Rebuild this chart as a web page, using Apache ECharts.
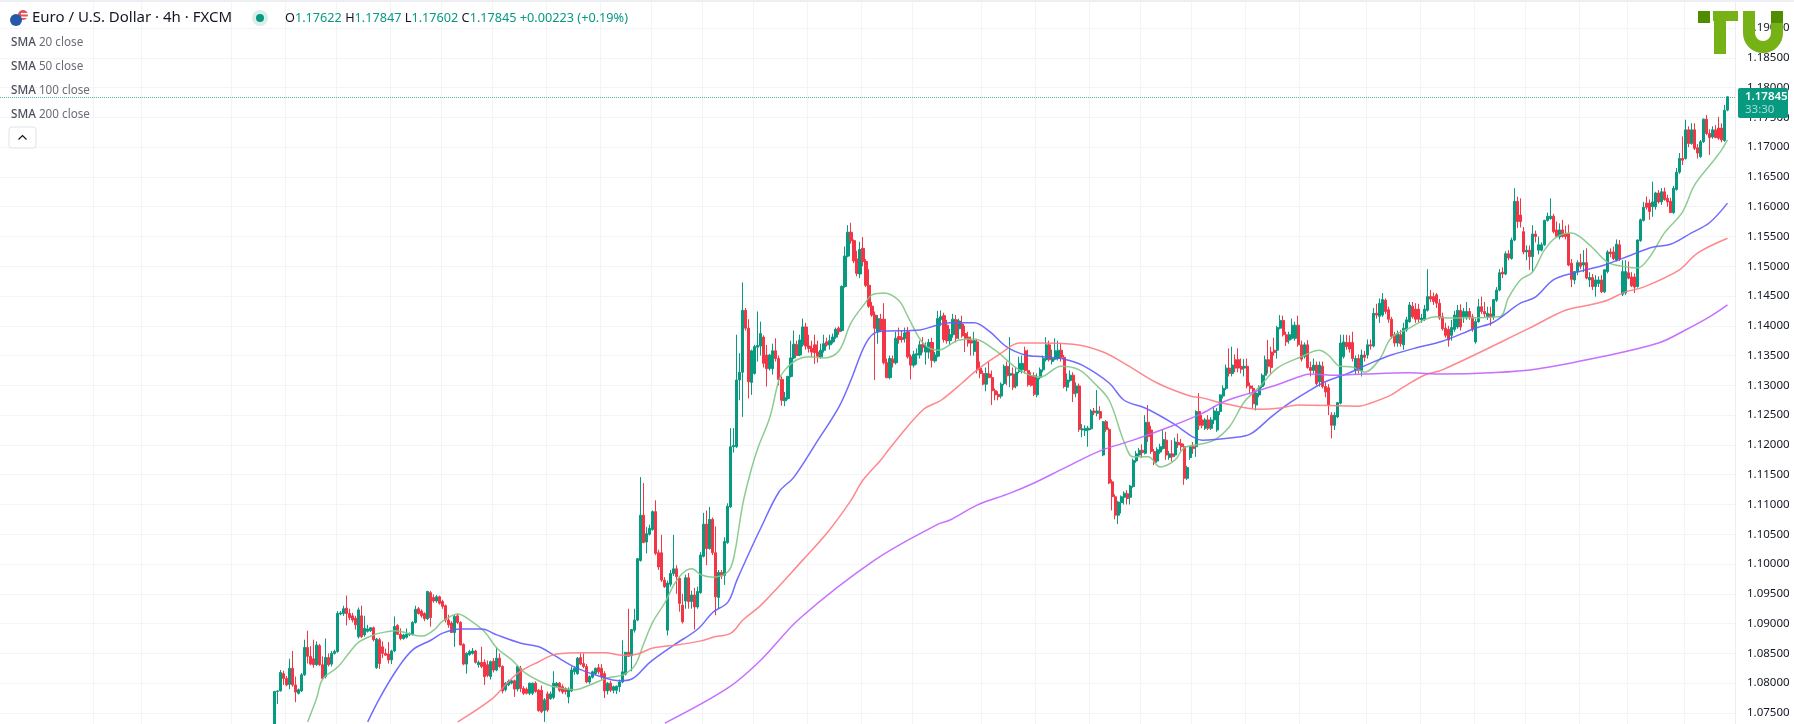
<!DOCTYPE html>
<html>
<head>
<meta charset="utf-8">
<title>EUR/USD 4h</title>
<script src="https://cdn.jsdelivr.net/npm/echarts@6/dist/echarts.min.js"></script>
<style>
html, body { margin: 0; padding: 0; background: #fff; }
#chart { width: 1794px; height: 724px; }
</style>
</head>
<body>
<div id="chart"></div>
<script>
'use strict';
// ---- candles: [open, high, low, close] ----------------------------------- //
const legSpring = [
[1.0715,1.0787,1.0700,1.0786],[1.0786,1.0788,1.0765,1.0787],[1.0787,1.0822,1.0786,1.0818],[1.0816,1.0821,1.0797,1.0808],[1.0808,1.0812,1.0795,1.0797],
[1.0798,1.0841,1.0790,1.0825],[1.0825,1.0854,1.0794,1.0797],[1.0797,1.0811,1.0768,1.0785],[1.0783,1.0791,1.0781,1.0789],[1.0787,1.0817,1.0785,1.0814],
[1.0814,1.0873,1.0812,1.0860],[1.0860,1.0888,1.0833,1.0845],[1.0845,1.0862,1.0830,1.0832],[1.0841,1.0873,1.0826,1.0831],[1.0831,1.0870,1.0829,1.0864],
[1.0863,1.0866,1.0829,1.0831],[1.0831,1.0845,1.0807,1.0808],[1.0811,1.0875,1.0808,1.0843],[1.0843,1.0850,1.0828,1.0831],[1.0832,1.0854,1.0828,1.0850],
[1.0850,1.0856,1.0848,1.0853],[1.0853,1.0921,1.0851,1.0917],[1.0916,1.0921,1.0914,1.0918],[1.0917,1.0930,1.0913,1.0925],[1.0926,1.0947,1.0897,1.0917],
[1.0917,1.0925,1.0906,1.0910],[1.0913,1.0918,1.0902,1.0906],[1.0909,1.0913,1.0890,1.0898],[1.0878,1.0927,1.0875,1.0923],[1.0913,1.0930,1.0876,1.0878],
[1.0881,1.0913,1.0878,1.0892],[1.0887,1.0898,1.0885,1.0891],[1.0888,1.0894,1.0886,1.0893],[1.0893,1.0895,1.0870,1.0873],[1.0826,1.0876,1.0824,1.0874],
[1.0873,1.0876,1.0824,1.0833],[1.0861,1.0870,1.0842,1.0850],[1.0850,1.0858,1.0846,1.0847],[1.0849,1.0869,1.0833,1.0839],[1.0839,1.0856,1.0832,1.0854],
[1.0854,1.0912,1.0852,1.0895],[1.0897,1.0899,1.0881,1.0882],[1.0882,1.0892,1.0872,1.0875],[1.0875,1.0883,1.0873,1.0881],[1.0877,1.0892,1.0875,1.0882],
[1.0881,1.0885,1.0879,1.0883],[1.0882,1.0904,1.0880,1.0902],[1.0902,1.0930,1.0900,1.0924],[1.0925,1.0928,1.0915,1.0917],[1.0921,1.0924,1.0910,1.0913],
[1.0917,1.0919,1.0904,1.0908],[1.0908,1.0955,1.0906,1.0954],[1.0952,1.0955,1.0895,1.0910],[1.0944,1.0949,1.0935,1.0938],[1.0938,1.0948,1.0935,1.0945],
[1.0945,1.0947,1.0932,1.0934],[1.0937,1.0940,1.0925,1.0929],[1.0930,1.0932,1.0902,1.0906],[1.0906,1.0915,1.0893,1.0898],[1.0901,1.0904,1.0885,1.0885],
[1.0885,1.0916,1.0861,1.0912],[1.0913,1.0917,1.0899,1.0902],[1.0902,1.0904,1.0864,1.0864],[1.0865,1.0867,1.0830,1.0832],[1.0832,1.0852,1.0816,1.0850],
[1.0848,1.0856,1.0846,1.0853],[1.0850,1.0859,1.0848,1.0854],[1.0854,1.0856,1.0833,1.0835],[1.0831,1.0838,1.0826,1.0835],[1.0835,1.0861,1.0825,1.0828],
[1.0835,1.0840,1.0797,1.0811],[1.0831,1.0838,1.0810,1.0813],[1.0811,1.0838,1.0806,1.0836],[1.0837,1.0842,1.0818,1.0822],[1.0822,1.0860,1.0820,1.0842],
[1.0842,1.0850,1.0826,1.0828],[1.0828,1.0830,1.0783,1.0787],[1.0789,1.0802,1.0786,1.0800],[1.0797,1.0806,1.0795,1.0803],[1.0800,1.0806,1.0798,1.0804],
[1.0804,1.0806,1.0777,1.0790],[1.0790,1.0830,1.0786,1.0828],
];
const legBreakout = [
[1.0825,1.0829,1.0785,1.0791],[1.0791,1.0795,1.0780,1.0783],[1.0790,1.0793,1.0781,1.0783],[1.0783,1.0801,1.0780,1.0800],[1.0783,1.0801,1.0780,1.0800],
[1.0800,1.0803,1.0784,1.0786],[1.0788,1.0790,1.0752,1.0754],[1.0788,1.0796,1.0750,1.0752],[1.0754,1.0775,1.0735,1.0772],[1.0782,1.0786,1.0752,1.0755],
[1.0774,1.0786,1.0772,1.0782],[1.0776,1.0820,1.0773,1.0800],[1.0795,1.0802,1.0793,1.0800],[1.0800,1.0802,1.0785,1.0788],[1.0794,1.0798,1.0782,1.0785],
[1.0791,1.0793,1.0781,1.0786],[1.0777,1.0793,1.0766,1.0790],[1.0787,1.0828,1.0785,1.0822],[1.0819,1.0828,1.0814,1.0825],[1.0816,1.0844,1.0814,1.0842],
[1.0843,1.0850,1.0830,1.0832],[1.0833,1.0850,1.0825,1.0828],[1.0828,1.0832,1.0800,1.0802],[1.0802,1.0813,1.0799,1.0811],[1.0810,1.0821,1.0808,1.0819],
[1.0816,1.0826,1.0814,1.0825],[1.0826,1.0832,1.0815,1.0819],[1.0825,1.0832,1.0806,1.0811],[1.0816,1.0820,1.0775,1.0787],[1.0787,1.0802,1.0781,1.0800],
[1.0800,1.0804,1.0785,1.0788],[1.0788,1.0796,1.0783,1.0794],[1.0788,1.0796,1.0782,1.0795],[1.0794,1.0806,1.0785,1.0802],[1.0802,1.0872,1.0800,1.0819],
[1.0815,1.0852,1.0813,1.0852],[1.0852,1.0925,1.0845,1.0845],[1.0846,1.0891,1.0820,1.0890],[1.0889,1.0925,1.0885,1.0906],[1.0906,1.1010,1.0904,1.1009],
[1.1006,1.1146,1.1004,1.1082],[1.1082,1.1136,1.1035,1.1036],[1.1037,1.1062,1.1018,1.1051],[1.1050,1.1066,1.1048,1.1060],[1.1058,1.1090,1.1056,1.1088],
[1.1088,1.1107,1.1015,1.1018],[1.1019,1.1024,1.0990,1.0995],[1.1019,1.1049,1.0970,1.0973],[1.0973,1.0978,1.0960,1.0962],[1.0889,1.0972,1.0880,1.0968],
[1.0966,1.0990,1.0962,1.0984],[1.0984,1.1049,1.0980,1.0992],[1.0992,1.0998,1.0950,1.0979],[1.0976,1.0980,1.0920,1.0934],[1.0931,1.0950,1.0900,1.0903],
[1.0938,1.0982,1.0925,1.0977],[1.0977,1.0985,1.0925,1.0937],[1.0937,1.0955,1.0925,1.0948],[1.0948,1.0960,1.0890,1.0928],[1.0928,1.0962,1.0925,1.0954],
[1.0952,1.1020,1.0950,1.1015],[1.1013,1.1086,1.1011,1.1067],[1.1067,1.1090,1.0998,1.1026],[1.1026,1.1096,1.1024,1.1075],[1.1075,1.1078,1.1015,1.1019],
[1.1019,1.1063,1.0914,1.0945],[1.0944,1.0990,1.0925,1.0986],[1.0986,1.0990,1.0975,1.0980],[1.0981,1.1045,1.0965,1.1038],[1.1036,1.1102,1.1034,1.1097],
];
const legPeak = [
[1.1096,1.1228,1.1094,1.1197],[1.1197,1.1228,1.1187,1.1199],[1.1197,1.1385,1.1195,1.1309],[1.1309,1.1354,1.1275,1.1322],[1.1322,1.1473,1.1247,1.1426],
[1.1426,1.1430,1.1392,1.1396],[1.1396,1.1411,1.1278,1.1306],[1.1305,1.1360,1.1284,1.1358],[1.1320,1.1368,1.1318,1.1365],[1.1364,1.1424,1.1340,1.1367],
[1.1366,1.1407,1.1350,1.1387],[1.1381,1.1384,1.1330,1.1337],[1.1351,1.1368,1.1298,1.1328],[1.1328,1.1353,1.1325,1.1351],[1.1328,1.1370,1.1318,1.1358],
[1.1358,1.1379,1.1340,1.1345],[1.1345,1.1350,1.1300,1.1310],[1.1310,1.1315,1.1266,1.1275],[1.1274,1.1289,1.1265,1.1279],[1.1278,1.1316,1.1276,1.1315],
[1.1315,1.1375,1.1313,1.1346],[1.1346,1.1392,1.1344,1.1369],[1.1368,1.1375,1.1350,1.1350],[1.1351,1.1385,1.1349,1.1376],[1.1368,1.1412,1.1365,1.1398],
[1.1398,1.1405,1.1360,1.1366],[1.1366,1.1385,1.1355,1.1362],[1.1362,1.1375,1.1348,1.1356],[1.1368,1.1385,1.1336,1.1355],[1.1356,1.1375,1.1338,1.1349],
[1.1348,1.1370,1.1345,1.1359],[1.1359,1.1385,1.1355,1.1370],[1.1373,1.1380,1.1365,1.1368],[1.1368,1.1385,1.1360,1.1375],[1.1373,1.1387,1.1370,1.1381],
[1.1381,1.1397,1.1378,1.1394],[1.1396,1.1399,1.1385,1.1390],[1.1392,1.1468,1.1390,1.1466],[1.1466,1.1533,1.1464,1.1517],[1.1517,1.1569,1.1515,1.1557],
[1.1557,1.1573,1.1538,1.1543],[1.1543,1.1545,1.1505,1.1509],[1.1512,1.1526,1.1483,1.1488],[1.1487,1.1541,1.1480,1.1528],[1.1530,1.1549,1.1500,1.1508],
[1.1508,1.1512,1.1465,1.1468],[1.1468,1.1495,1.1430,1.1433],[1.1433,1.1440,1.1415,1.1418],[1.1418,1.1424,1.1309,1.1396],[1.1390,1.1418,1.1370,1.1412],
[1.1411,1.1420,1.1390,1.1393],[1.1411,1.1438,1.1335,1.1338],[1.1338,1.1345,1.1312,1.1313],[1.1313,1.1350,1.1310,1.1345],[1.1344,1.1350,1.1330,1.1338],
[1.1338,1.1390,1.1335,1.1379],[1.1382,1.1397,1.1370,1.1377],[1.1380,1.1392,1.1372,1.1377],[1.1379,1.1397,1.1372,1.1388],[1.1390,1.1398,1.1345,1.1348],
[1.1348,1.1352,1.1310,1.1334],[1.1334,1.1358,1.1330,1.1352],[1.1351,1.1362,1.1335,1.1353],[1.1351,1.1375,1.1345,1.1368],[1.1368,1.1381,1.1355,1.1364],
[1.1356,1.1372,1.1335,1.1365],[1.1356,1.1378,1.1345,1.1372],[1.1372,1.1380,1.1330,1.1342],[1.1341,1.1356,1.1338,1.1351],[1.1349,1.1425,1.1347,1.1412],
[1.1411,1.1426,1.1400,1.1415],[1.1417,1.1422,1.1372,1.1377],[1.1401,1.1410,1.1370,1.1375],[1.1375,1.1395,1.1368,1.1385],[1.1385,1.1420,1.1380,1.1411],
[1.1410,1.1418,1.1372,1.1379],[1.1395,1.1412,1.1378,1.1408],
];
const legPullback = [
[1.1403,1.1417,1.1380,1.1383],[1.1387,1.1400,1.1356,1.1379],[1.1381,1.1390,1.1365,1.1371],[1.1375,1.1382,1.1350,1.1371],[1.1357,1.1390,1.1350,1.1375],
[1.1373,1.1378,1.1320,1.1326],[1.1329,1.1340,1.1312,1.1320],[1.1320,1.1325,1.1300,1.1302],[1.1302,1.1330,1.1290,1.1320],[1.1319,1.1340,1.1312,1.1313],
[1.1313,1.1325,1.1267,1.1291],[1.1291,1.1295,1.1275,1.1284],[1.1285,1.1290,1.1275,1.1281],[1.1282,1.1305,1.1278,1.1302],[1.1303,1.1335,1.1300,1.1332],
[1.1332,1.1340,1.1300,1.1316],[1.1317,1.1381,1.1297,1.1320],[1.1319,1.1330,1.1292,1.1297],[1.1299,1.1330,1.1295,1.1322],[1.1323,1.1348,1.1320,1.1337],
[1.1326,1.1350,1.1320,1.1337],[1.1358,1.1365,1.1320,1.1325],[1.1325,1.1360,1.1298,1.1301],[1.1316,1.1322,1.1298,1.1300],[1.1316,1.1322,1.1282,1.1285],
[1.1284,1.1320,1.1280,1.1312],[1.1313,1.1330,1.1310,1.1326],[1.1326,1.1350,1.1322,1.1345],[1.1343,1.1381,1.1340,1.1368],[1.1368,1.1375,1.1340,1.1343],
[1.1340,1.1360,1.1335,1.1345],[1.1344,1.1379,1.1342,1.1358],[1.1345,1.1375,1.1342,1.1359],[1.1359,1.1370,1.1340,1.1347],[1.1347,1.1351,1.1295,1.1298],
[1.1297,1.1320,1.1290,1.1309],[1.1308,1.1325,1.1305,1.1317],[1.1317,1.1322,1.1272,1.1286],[1.1287,1.1305,1.1280,1.1299],[1.1299,1.1303,1.1222,1.1226],
[1.1225,1.1235,1.1213,1.1227],[1.1224,1.1233,1.1215,1.1228],[1.1225,1.1232,1.1197,1.1228],[1.1227,1.1260,1.1225,1.1257],[1.1257,1.1262,1.1250,1.1254],
[1.1253,1.1292,1.1248,1.1257],[1.1256,1.1265,1.1242,1.1245],[1.1183,1.1240,1.1181,1.1239],[1.1239,1.1242,1.1222,1.1226],[1.1226,1.1229,1.1134,1.1136],
[1.1138,1.1142,1.1090,1.1113],[1.1113,1.1117,1.1075,1.1082],[1.1082,1.1106,1.1067,1.1104],[1.1103,1.1115,1.1085,1.1113],[1.1112,1.1122,1.1100,1.1119],
[1.1118,1.1124,1.1100,1.1110],[1.1112,1.1133,1.1100,1.1131],[1.1130,1.1177,1.1128,1.1174],[1.1173,1.1190,1.1170,1.1185],[1.1183,1.1195,1.1180,1.1191],
[1.1191,1.1201,1.1178,1.1187],[1.1186,1.1250,1.1184,1.1238],[1.1238,1.1267,1.1205,1.1214],[1.1225,1.1232,1.1185,1.1189],[1.1189,1.1193,1.1166,1.1170],
[1.1173,1.1196,1.1170,1.1192],[1.1188,1.1202,1.1185,1.1197],[1.1194,1.1225,1.1192,1.1209],[1.1208,1.1222,1.1175,1.1183],[1.1179,1.1190,1.1175,1.1185],
[1.1185,1.1208,1.1172,1.1180],[1.1183,1.1212,1.1180,1.1205],[1.1204,1.1219,1.1195,1.1200],[1.1202,1.1210,1.1190,1.1197],[1.1197,1.1202,1.1133,1.1144],
[1.1144,1.1165,1.1141,1.1162],[1.1179,1.1198,1.1175,1.1197],[1.1197,1.1205,1.1185,1.1194],[1.1197,1.1258,1.1180,1.1256],
];
const legRange = [
[1.1256,1.1287,1.1225,1.1233],[1.1242,1.1250,1.1228,1.1233],[1.1228,1.1245,1.1225,1.1242],[1.1242,1.1250,1.1225,1.1228],[1.1228,1.1247,1.1225,1.1242],
[1.1242,1.1265,1.1235,1.1257],[1.1225,1.1262,1.1222,1.1256],[1.1256,1.1285,1.1250,1.1284],[1.1282,1.1300,1.1278,1.1295],[1.1295,1.1335,1.1292,1.1329],
[1.1329,1.1362,1.1315,1.1320],[1.1320,1.1365,1.1315,1.1334],[1.1343,1.1352,1.1322,1.1329],[1.1343,1.1362,1.1322,1.1329],[1.1332,1.1345,1.1320,1.1327],
[1.1329,1.1344,1.1315,1.1332],[1.1332,1.1345,1.1295,1.1299],[1.1299,1.1305,1.1285,1.1295],[1.1295,1.1300,1.1262,1.1269],[1.1267,1.1290,1.1258,1.1287],
[1.1284,1.1300,1.1280,1.1298],[1.1298,1.1320,1.1295,1.1317],[1.1317,1.1350,1.1300,1.1343],[1.1343,1.1376,1.1320,1.1332],[1.1356,1.1365,1.1320,1.1330],
[1.1359,1.1380,1.1350,1.1355],[1.1359,1.1400,1.1345,1.1397],[1.1396,1.1418,1.1394,1.1409],[1.1409,1.1417,1.1382,1.1385],[1.1385,1.1390,1.1366,1.1373],
[1.1376,1.1390,1.1370,1.1385],[1.1379,1.1412,1.1377,1.1401],[1.1379,1.1407,1.1375,1.1401],[1.1401,1.1417,1.1365,1.1368],[1.1368,1.1375,1.1340,1.1344],
[1.1348,1.1372,1.1345,1.1368],[1.1368,1.1376,1.1328,1.1330],[1.1330,1.1340,1.1315,1.1325],[1.1325,1.1345,1.1320,1.1334],[1.1334,1.1340,1.1300,1.1303],
[1.1306,1.1340,1.1298,1.1334],[1.1332,1.1340,1.1295,1.1298],[1.1298,1.1305,1.1280,1.1289],[1.1296,1.1302,1.1250,1.1267],[1.1250,1.1255,1.1211,1.1233],
[1.1233,1.1255,1.1225,1.1250],[1.1247,1.1272,1.1245,1.1271],[1.1270,1.1385,1.1268,1.1371],[1.1348,1.1385,1.1345,1.1373],[1.1372,1.1385,1.1360,1.1365],
[1.1372,1.1384,1.1355,1.1361],[1.1372,1.1390,1.1340,1.1345],[1.1325,1.1350,1.1318,1.1345],[1.1345,1.1352,1.1320,1.1325],[1.1325,1.1360,1.1315,1.1351],
[1.1351,1.1358,1.1340,1.1347],[1.1351,1.1377,1.1345,1.1368],[1.1368,1.1377,1.1360,1.1366],[1.1366,1.1430,1.1364,1.1421],[1.1421,1.1437,1.1412,1.1418],
[1.1416,1.1446,1.1405,1.1438],[1.1418,1.1455,1.1415,1.1444],[1.1443,1.1446,1.1420,1.1424],[1.1427,1.1432,1.1405,1.1411],[1.1411,1.1415,1.1378,1.1382],
[1.1385,1.1390,1.1365,1.1371],[1.1371,1.1392,1.1365,1.1387],[1.1385,1.1393,1.1365,1.1370],[1.1368,1.1405,1.1360,1.1396],[1.1393,1.1415,1.1390,1.1410],
[1.1407,1.1440,1.1405,1.1435],[1.1433,1.1440,1.1412,1.1415],[1.1428,1.1438,1.1405,1.1411],[1.1428,1.1437,1.1405,1.1411],[1.1410,1.1420,1.1405,1.1413],
[1.1411,1.1435,1.1408,1.1428],[1.1426,1.1495,1.1424,1.1449],[1.1449,1.1460,1.1440,1.1445],[1.1449,1.1456,1.1435,1.1441],[1.1452,1.1455,1.1430,1.1438],
[1.1438,1.1445,1.1410,1.1413],
];
const legRally = [
[1.1415,1.1422,1.1392,1.1395],[1.1396,1.1405,1.1380,1.1384],[1.1394,1.1400,1.1365,1.1376],[1.1384,1.1410,1.1375,1.1397],[1.1394,1.1425,1.1390,1.1418],[1.1398,1.1435,1.1395,1.1426],
[1.1426,1.1436,1.1392,1.1398],[1.1415,1.1430,1.1405,1.1424],[1.1415,1.1440,1.1410,1.1424],[1.1424,1.1430,1.1410,1.1415],[1.1415,1.1420,1.1390,1.1394],
[1.1373,1.1412,1.1370,1.1407],[1.1407,1.1445,1.1405,1.1432],[1.1432,1.1449,1.1420,1.1424],[1.1424,1.1440,1.1415,1.1420],[1.1415,1.1432,1.1410,1.1421],
[1.1420,1.1432,1.1400,1.1414],[1.1415,1.1445,1.1410,1.1444],[1.1443,1.1465,1.1440,1.1460],[1.1460,1.1495,1.1458,1.1489],[1.1490,1.1498,1.1480,1.1487],
[1.1487,1.1525,1.1485,1.1521],[1.1521,1.1527,1.1510,1.1514],[1.1513,1.1548,1.1511,1.1544],[1.1544,1.1631,1.1542,1.1609],[1.1609,1.1617,1.1564,1.1575],
[1.1586,1.1614,1.1565,1.1575],[1.1558,1.1566,1.1520,1.1524],[1.1524,1.1535,1.1510,1.1527],[1.1527,1.1535,1.1494,1.1516],[1.1516,1.1569,1.1490,1.1554],
[1.1554,1.1560,1.1540,1.1550],[1.1527,1.1550,1.1520,1.1536],[1.1527,1.1540,1.1525,1.1536],[1.1536,1.1578,1.1534,1.1577],[1.1577,1.1590,1.1575,1.1584],
[1.1580,1.1614,1.1578,1.1584],[1.1584,1.1588,1.1555,1.1558],[1.1561,1.1575,1.1548,1.1550],[1.1549,1.1572,1.1545,1.1561],[1.1561,1.1578,1.1548,1.1550],
[1.1555,1.1568,1.1545,1.1550],[1.1555,1.1570,1.1500,1.1502],[1.1505,1.1512,1.1465,1.1478],[1.1477,1.1492,1.1470,1.1491],[1.1491,1.1510,1.1485,1.1506],
[1.1506,1.1521,1.1495,1.1500],[1.1502,1.1527,1.1490,1.1506],[1.1506,1.1530,1.1478,1.1480],[1.1477,1.1490,1.1465,1.1481],[1.1481,1.1487,1.1460,1.1466],
[1.1466,1.1485,1.1449,1.1477],[1.1471,1.1483,1.1465,1.1477],[1.1477,1.1485,1.1455,1.1457],[1.1457,1.1495,1.1455,1.1494],[1.1491,1.1527,1.1488,1.1524],
[1.1524,1.1530,1.1515,1.1521],[1.1524,1.1533,1.1510,1.1513],[1.1510,1.1545,1.1508,1.1537],[1.1536,1.1544,1.1509,1.1512],[1.1453,1.1510,1.1450,1.1491],
[1.1455,1.1510,1.1452,1.1491],[1.1489,1.1508,1.1478,1.1480],[1.1482,1.1490,1.1465,1.1467],[1.1482,1.1488,1.1455,1.1465],[1.1466,1.1545,1.1464,1.1544],
[1.1543,1.1580,1.1541,1.1578],[1.1577,1.1608,1.1575,1.1599],[1.1606,1.1617,1.1595,1.1599],[1.1606,1.1612,1.1578,1.1592],[1.1600,1.1642,1.1583,1.1608],
[1.1600,1.1625,1.1595,1.1623],[1.1623,1.1628,1.1605,1.1608],[1.1608,1.1631,1.1603,1.1625],[1.1625,1.1632,1.1610,1.1612],[1.1614,1.1620,1.1600,1.1608],
[1.1609,1.1615,1.1590,1.1590],[1.1590,1.1635,1.1588,1.1631],[1.1629,1.1665,1.1627,1.1658],[1.1658,1.1690,1.1655,1.1681],[1.1681,1.1718,1.1670,1.1678],
[1.1681,1.1746,1.1679,1.1729],[1.1729,1.1735,1.1700,1.1706],[1.1706,1.1740,1.1704,1.1729],[1.1729,1.1740,1.1695,1.1698],[1.1699,1.1705,1.1681,1.1690],
[1.1684,1.1712,1.1682,1.1709],[1.1709,1.1748,1.1707,1.1747],[1.1747,1.1754,1.1720,1.1723],[1.1723,1.1730,1.1687,1.1716],[1.1717,1.1735,1.1714,1.1729],
[1.1729,1.1737,1.1715,1.1716],[1.1732,1.1751,1.1712,1.1715],[1.1732,1.1740,1.1708,1.1712],[1.1711,1.1771,1.1709,1.1762],[1.17622,1.17847,1.17602,1.17845],
];

// moving averages, knots: [bar index, price]
const sma20 = [[102,1.0735],[105,1.0775],[107,1.0807],[112,1.0827],[116,1.0852],[119,1.0869],[124,1.0881],[126,1.0884],[131,1.0888],[140,1.0879],[144,1.0889],[147,1.0904],[152,1.0916],[156,1.0906],[161,1.0886],[165,1.0859],[170,1.0839],[174,1.0819],[179,1.0804],[184,1.0794],[191,1.0789],[196,1.0797],[202,1.0809],[207,1.0814],[211,1.0830],[214,1.0867],[217,1.0903],[221,1.0935],[224,1.0965],[227,1.0985],[230,1.0992],[233,1.0982],[237,1.0978],[242,1.0987],[244,1.1012],[247,1.1102],[250,1.1163],[252,1.1195],[256,1.1247],[259,1.1309],[261,1.1326],[265,1.1343],[269,1.1348],[274,1.1346],[279,1.1358],[283,1.1405],[288,1.1440],[290,1.1452],[294,1.1455],[299,1.1442],[302,1.1415],[307,1.1371],[312,1.1359],[319,1.1376],[324,1.1378],[331,1.1359],[339,1.1326],[346,1.1314],[353,1.1332],[359,1.1326],[364,1.1304],[369,1.1275],[374,1.1205],[377,1.1180],[382,1.1180],[386,1.1163],[391,1.1175],[394,1.1195],[400,1.1202],[404,1.1208],[409,1.1230],[414,1.1272],[419,1.1297],[425,1.1329],[433,1.1348],[439,1.1359],[442,1.1351],[446,1.1332],[450,1.1331],[454,1.1322],[459,1.1343],[463,1.1380],[469,1.1396],[474,1.1410],[478,1.1415],[482,1.1413],[499,1.1415],[502,1.1447],[506,1.1477],[510,1.1490],[514,1.1527],[518,1.1549],[523,1.1556],[529,1.1536],[535,1.1507],[541,1.1499],[545,1.1497],[549,1.1515],[554,1.1556],[560,1.1591],[564,1.1636],[570,1.1675],[573,1.1695],[575,1.1712]];
const sma50 = [[122,1.0735],[126,1.0775],[132,1.0825],[137,1.0856],[143,1.0872],[147,1.0884],[153,1.0891],[160,1.0891],[165,1.0881],[173,1.0867],[179,1.0861],[184,1.0847],[191,1.0827],[199,1.0812],[206,1.0804],[210,1.0807],[216,1.0835],[224,1.0864],[232,1.0891],[237,1.0919],[242,1.0936],[245,1.0973],[250,1.1029],[253,1.1061],[259,1.1121],[264,1.1146],[272,1.1208],[279,1.1264],[283,1.1309],[288,1.1371],[292,1.1390],[306,1.1393],[311,1.1400],[316,1.1405],[324,1.1405],[329,1.1391],[335,1.1364],[341,1.1351],[347,1.1348],[354,1.1344],[360,1.1334],[369,1.1304],[374,1.1275],[381,1.1262],[390,1.1237],[397,1.1213],[400,1.1208],[410,1.1212],[416,1.1218],[423,1.1247],[429,1.1270],[435,1.1289],[441,1.1306],[449,1.1321],[456,1.1337],[463,1.1351],[472,1.1364],[480,1.1374],[491,1.1396],[497,1.1406],[506,1.1438],[511,1.1448],[517,1.1477],[524,1.1489],[534,1.1502],[543,1.1519],[550,1.1532],[556,1.1537],[563,1.1556],[569,1.1573],[575,1.1606]];
const sma100 = [[152,1.0735],[163,1.0772],[167,1.0792],[172,1.0817],[179,1.0836],[185,1.0849],[194,1.0851],[201,1.0851],[207,1.0847],[212,1.0849],[217,1.0859],[225,1.0864],[233,1.0871],[237,1.0877],[243,1.0884],[247,1.0906],[253,1.0931],[267,1.1007],[275,1.1052],[283,1.1107],[287,1.1141],[293,1.1175],[296,1.1195],[307,1.1259],[313,1.1275],[320,1.1304],[325,1.1326],[333,1.1354],[339,1.1371],[345,1.1371],[357,1.1369],[367,1.1356],[375,1.1334],[385,1.1304],[396,1.1282],[400,1.1279],[407,1.1270],[419,1.1260],[426,1.1262],[432,1.1267],[452,1.1265],[456,1.1270],[463,1.1284],[467,1.1297],[474,1.1317],[480,1.1326],[509,1.1396],[521,1.1426],[529,1.1435],[535,1.1443],[541,1.1457],[547,1.1465],[559,1.1494],[565,1.1522],[575,1.1547]];
const sma200 = [[221,1.0733],[242,1.0792],[253,1.0839],[266,1.0909],[291,1.1007],[312,1.1067],[316,1.1074],[325,1.1099],[336,1.1119],[344,1.1136],[354,1.1161],[366,1.1190],[377,1.1208],[389,1.1230],[400,1.1253],[407,1.1272],[416,1.1287],[425,1.1301],[432,1.1314],[436,1.1319],[445,1.1317],[454,1.1319],[469,1.1321],[480,1.1319],[496,1.1321],[511,1.1327],[533,1.1348],[552,1.1371],[561,1.1393],[569,1.1415],[575,1.1435]];

const gridBars = [31,47,77,95,112,130,147,164,182,200,217,234,251,269,287,304,327,345,363,380,397,415,433,455,473,491,508,526,542,561];
const emptyLeft = 91, emptyRight = 2;

const lastPrice = 1.17845;
const countdown = '33:30';
const legendRows = ['20 close', '50 close', '100 close', '200 close'];
const ohlcHeader = '{l|O}{v|1.17622} {l|H}{v|1.17847} {l|L}{v|1.17602} {l|C}{v|1.17845} {v|+0.00223 (+0.19%)}';

const UP = '#089981', DOWN = '#f23645', FONT = '"Noto Sans", sans-serif';

// ---- build series -------------------------------------------------------- //
const rows = [].concat(legSpring, legBreakout, legPeak, legPullback, legRange, legRally);
const pad = (n) => new Array(n).fill('-');
const candleData = pad(emptyLeft)
  .concat(rows.map((r) => [r[0], r[3], r[2], r[1]]))  // echarts order: o c l h
  .concat(pad(emptyRight));
const categories = candleData.map((_, i) => 'bar' + i);
const gridSet = new Set(gridBars);

const line = (name, data, color, width) => ({
  name, type: 'line', data, smooth: 0.35, showSymbol: false, silent: true, z: 5,
  lineStyle: { color, width, opacity: 0.9 },
});

const legendText = legendRows.map((t, i) => ({
  type: 'text', x: 11, y: 42.5 + i * 24, z: 20,
  style: {
    text: '{b|SMA} {g|' + t + '}', verticalAlign: 'middle', font: '12px ' + FONT,
    rich: { b: { fill: '#4a4e59', fontFamily: FONT, fontSize: 11.7, fontWeight: 500 }, g: { fill: '#6a6d78', fontFamily: FONT, fontSize: 11.7 } },
  },
}));

const logoGreen = '#76b116', logoDark = '#4f8c00';
const logo = [
  { type: 'rect', shape: { x: 1698, y: 11, width: 12, height: 12 }, style: { fill: logoDark }, z: 30 },
  { type: 'rect', shape: { x: 1713, y: 11, width: 25, height: 10 }, style: { fill: logoGreen }, z: 30 },
  { type: 'rect', shape: { x: 1714, y: 11, width: 12, height: 43 }, style: { fill: logoGreen }, z: 30 },
  { type: 'rect', shape: { x: 1743, y: 11, width: 12, height: 22 }, style: { fill: logoGreen }, z: 30 },
  { type: 'rect', shape: { x: 1771, y: 23, width: 12, height: 10 }, style: { fill: logoGreen }, z: 30 },
  { type: 'rect', shape: { x: 1771, y: 11, width: 12, height: 12 }, style: { fill: logoDark }, z: 30 },
  { type: 'sector', shape: { cx: 1763, cy: 33, r: 20, r0: 8, startAngle: 0, endAngle: Math.PI }, style: { fill: logoGreen }, z: 30 },
];

const chart = echarts.init(document.getElementById('chart'));
chart.setOption({
  animation: false,
  backgroundColor: '#ffffff',
  grid: { left: 0, width: 1735, top: -1.78, height: 744.5, outerBoundsMode: 'none' },
  xAxis: {
    type: 'category', data: categories, boundaryGap: true,
    axisLine: { show: false }, axisTick: { show: false }, axisLabel: { show: false },
    splitLine: { show: true, interval: (i) => gridSet.has(i), lineStyle: { color: '#f3f4f6', width: 1 } },
  },
  yAxis: {
    type: 'value', position: 'right', min: 1.07, max: 1.195, interval: 0.005, scale: true,
    axisLine: { show: true, lineStyle: { color: '#eceef2' } }, axisTick: { show: false },
    axisLabel: { color: '#131722', fontFamily: FONT, fontSize: 11.5, margin: 12, showMaxLabel: false, formatter: (v) => v.toFixed(5) },
    splitLine: { show: true, lineStyle: { color: '#f3f4f6', width: 1 } },
  },
  series: [
    {
      name: 'EURUSD', type: 'candlestick', data: candleData, barWidth: 2.6, progressive: 0, z: 3,
      itemStyle: { color: UP, color0: DOWN, borderColor: UP, borderColor0: DOWN, borderWidth: 1 },
      markLine: {
        silent: true, symbol: 'none', animation: false, label: { show: false }, precision: 5,
        lineStyle: { color: UP, type: 'dotted', width: 1, opacity: 0.7 },
        data: [{ yAxis: lastPrice }],
      },
    },
    line('SMA 20', sma20, '#81c784', 1.5),
    line('SMA 50', sma50, '#5f5cff', 1.5),
    line('SMA 100', sma100, '#ff7b80', 1.5),
    line('SMA 200', sma200, '#c060ff', 1.5),
  ],
  graphic: [
    { type: 'rect', shape: { x: 0, y: 0, width: 1794, height: 2 }, style: { fill: '#eeeff2' }, z: 20 },
    // header
    { type: 'circle', shape: { cx: 23, cy: 15, r: 5 }, style: { fill: '#e8505b' }, z: 20 },
    { type: 'rect', shape: { x: 21, y: 13, width: 8, height: 1.5 }, style: { fill: '#ffffff' }, z: 21 },
    { type: 'rect', shape: { x: 21, y: 16.5, width: 8, height: 1.5 }, style: { fill: '#ffffff' }, z: 21 },
    { type: 'circle', shape: { cx: 16, cy: 20, r: 6 }, style: { fill: '#2757a8' }, z: 22 },
    { type: 'text', x: 32, y: 18, z: 20, style: { text: 'Euro / U.S. Dollar · 4h · FXCM', fill: '#131722', font: '15px ' + FONT, verticalAlign: 'middle' } },
    { type: 'circle', shape: { cx: 260, cy: 18, r: 8 }, style: { fill: '#d9efec' }, z: 20 },
    { type: 'circle', shape: { cx: 260, cy: 18, r: 4 }, style: { fill: UP }, z: 21 },
    {
      type: 'text', x: 285, y: 18, z: 20,
      style: {
        text: ohlcHeader, verticalAlign: 'middle', font: '12.6px ' + FONT,
        rich: { l: { fill: '#131722', fontFamily: FONT, fontSize: 12.7 }, v: { fill: UP, fontFamily: FONT, fontSize: 12.7 } },
      },
    },
    ...legendText,
    // collapse button
    { type: 'rect', shape: { x: 9, y: 127, width: 27, height: 21, r: 3 }, style: { fill: '#fff', stroke: '#e0e3eb', lineWidth: 1 }, z: 20 },
    { type: 'polyline', shape: { points: [[18.5, 139.5], [22.5, 135.5], [26.5, 139.5]] }, style: { fill: 'none', stroke: '#131722', lineWidth: 1.2 }, z: 21 },
    // last price tag
    { type: 'rect', shape: { x: 1738, y: 88, width: 50, height: 30, r: 2 }, style: { fill: UP }, z: 25 },
    { type: 'text', x: 1745, y: 97, z: 26, style: { text: lastPrice.toFixed(5), fill: '#ffffff', font: '600 11.5px ' + FONT, verticalAlign: 'middle' } },
    { type: 'text', x: 1745, y: 110, z: 26, style: { text: countdown, fill: '#a9dcd3', font: '11.5px ' + FONT, verticalAlign: 'middle' } },
    ...logo,
  ],
});
</script>
</body>
</html>
